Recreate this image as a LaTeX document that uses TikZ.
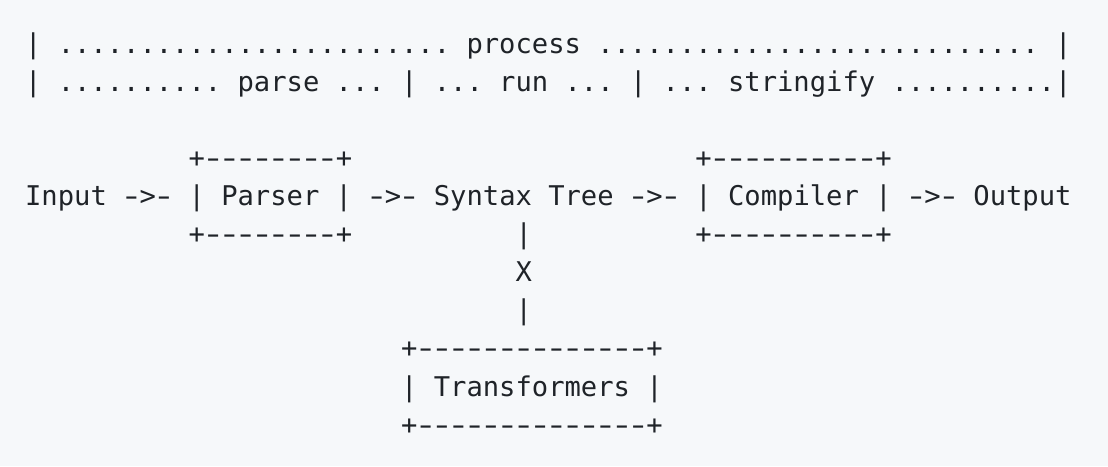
\documentclass[tikz,border=0pt]{standalone}
\usepackage{fontspec}
\usepackage{graphicx}
\newfontfamily\codefont{DejaVu Sans Mono}
\newcommand\codesetup{\codefont\fontsize{27.16}{38}\selectfont}
\ExplSyntaxOn
\NewDocumentCommand\mono{m}{\str_map_inline:nn {#1}
  {\hbox_to_wd:nn {16.35pt} {\hss \str_if_eq:nnTF {##1} {-} {\scalebox{1.45}[1]{-}} {##1} \hss}}}
\ExplSyntaxOff
\definecolor{codebg}{HTML}{F6F8FA}
\definecolor{codefg}{HTML}{1F2328}
\begin{document}
\begin{tikzpicture}[x=1pt,y=1pt,
  seg/.style={anchor=base west, inner sep=0pt, outer sep=0pt, text=codefg,
    font=\codesetup}]
\fill[codebg] (0,0) rectangle (1108,466);
\useasboundingbox (0,0) rectangle (1108,466);
% column c, row r  ->  (25.1 + 16.35 c , 412 - 38 r)
\node[seg] (lprocess) at (25.1+0*16.35, 412-0*38) {\mono{| ........................ process ........................... |}};
\node[seg] (lphases)  at (25.1+0*16.35, 412-1*38) {\mono{| .......... parse ... | ... run ... | ... stringify ..........|}};
% row 3
\node[seg] (parsertop)   at (25.1+10*16.35, 412-3*38) {\mono{+--------+}};
\node[seg] (compilertop) at (25.1+41*16.35, 412-3*38) {\mono{+----------+}};
% row 4
\node[seg] (input)    at (25.1+0*16.35,  412-4*38) {\mono{Input}};
\node[seg] (a1)       at (25.1+6*16.35,  412-4*38) {\mono{->-}};
\node[seg] (parser)   at (25.1+10*16.35, 412-4*38) {\mono{| Parser |}};
\node[seg] (a2)       at (25.1+21*16.35, 412-4*38) {\mono{->-}};
\node[seg] (tree)     at (25.1+25*16.35, 412-4*38) {\mono{Syntax Tree}};
\node[seg] (a3)       at (25.1+37*16.35, 412-4*38) {\mono{->-}};
\node[seg] (compiler) at (25.1+41*16.35, 412-4*38) {\mono{| Compiler |}};
\node[seg] (a4)       at (25.1+54*16.35, 412-4*38) {\mono{->-}};
\node[seg] (output)   at (25.1+58*16.35, 412-4*38) {\mono{Output}};
% row 5
\node[seg] (parserbot)   at (25.1+10*16.35, 412-5*38) {\mono{+--------+}};
\node[seg] (v1)          at (25.1+30*16.35, 412-5*38) {\mono{|}};
\node[seg] (compilerbot) at (25.1+41*16.35, 412-5*38) {\mono{+----------+}};
% rows 6-7
\node[seg] (cross) at (25.1+30*16.35, 412-6*38) {\mono{X}};
\node[seg] (v2)    at (25.1+30*16.35, 412-7*38) {\mono{|}};
% rows 8-10
\node[seg] (transtop)  at (25.1+23*16.35, 412-8*38)  {\mono{+--------------+}};
\node[seg] (trans)     at (25.1+23*16.35, 412-9*38)  {\mono{| Transformers |}};
\node[seg] (transbot)  at (25.1+23*16.35, 412-10*38) {\mono{+--------------+}};
\end{tikzpicture}
\end{document}
